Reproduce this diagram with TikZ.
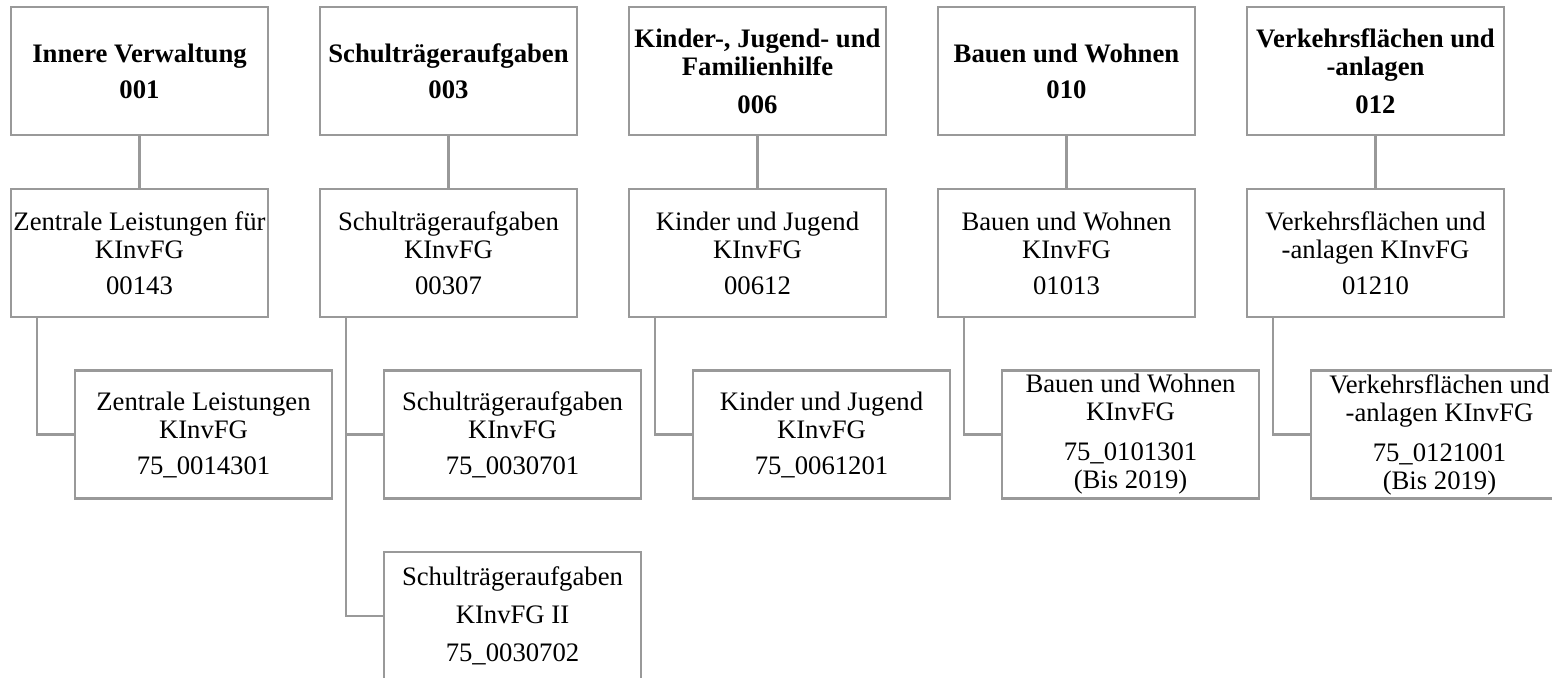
\documentclass[tikz,border=0pt]{standalone}
\usepackage{fontspec}
\setmainfont{Liberation Serif}
\usepackage{tikz}
\definecolor{boxline}{HTML}{999999}

\begin{document}
\begin{tikzpicture}[x=.5pt,y=-.5pt,
    box/.style={draw=boxline,line width=1.1pt,minimum width=128.5pt,minimum height=64pt,
      inner sep=0pt,align=center,font=\fontsize{13.35}{14}\selectfont},
    head/.style={box,font=\fontsize{13.35}{14}\selectfont\bfseries},
    link/.style={draw=boxline,line width=1.1pt}]
      \useasboundingbox (0,0) rectangle (1552,678);
      \node[head] (h1) at (139.5,71) {Innere Verwaltung\\[4pt]001};
      \node[head] (h2) at (448.5,71) {Schulträgeraufgaben\\[4pt]003};
      \node[head] (h3) at (757.5,71) {Kinder-, Jugend- und\\Familienhilfe\\[5pt]006};
      \node[head] (h4) at (1066.5,71) {Bauen und Wohnen\\[4pt]010};
      \node[head] (h5) at (1375.5,71) {Verkehrsflächen und\\-anlagen\\[5pt]012};
      \node[box] (m1) at (139.5,253) {Zentrale Leistungen für\\KInvFG\\[4pt]00143};
      \node[box] (m2) at (448.5,253) {Schulträgeraufgaben\\KInvFG\\[4pt]00307};
      \node[box] (m3) at (757.5,253) {Kinder und Jugend\\KInvFG\\[4pt]00612};
      \node[box] (m4) at (1066.5,253) {Bauen und Wohnen\\KInvFG\\[4pt]01013};
      \node[box] (m5) at (1375.5,253) {Verkehrsflächen und\\-anlagen KInvFG\\[4pt]01210};
      \node[box] (c1) at (203.5,434.5) {Zentrale Leistungen\\KInvFG\\[4pt]75\_0014301};
      \node[box] (c2) at (512.5,434.5) {Schulträgeraufgaben\\KInvFG\\[4pt]75\_0030701};
      \node[box] (c3) at (821.5,434.5) {Kinder und Jugend\\KInvFG\\[4pt]75\_0061201};
      \node[box] (c4) at (1130.5,434.5) {Bauen und Wohnen\\KInvFG\\[6pt]75\_0101301\\(Bis 2019)};
      \node[box] (c5) at (1439.5,434.5) {Verkehrsflächen und\\-anlagen KInvFG\\[6pt]75\_0121001\\(Bis 2019)};
      \node[box] (d2) at (512.5,616) {Schulträgeraufgaben\\[5pt]KInvFG II\\[5pt]75\_0030702};
      \draw[link] (h1) -- (m1);
      \draw[link] (h2) -- (m2);
      \draw[link] (h3) -- (m3);
      \draw[link] (h4) -- (m4);
      \draw[link] (h5) -- (m5);
      \draw[link] ([xshift=13.5pt]m1.south west) |- (c1.west);
      \draw[link] ([xshift=13.5pt]m2.south west) |- (c2.west);
      \draw[link] ([xshift=13.5pt]m2.south west) |- (d2.west);
      \draw[link] ([xshift=13.5pt]m3.south west) |- (c3.west);
      \draw[link] ([xshift=13.5pt]m4.south west) |- (c4.west);
      \draw[link] ([xshift=13.5pt]m5.south west) |- (c5.west);
    \end{tikzpicture}
\end{document}
